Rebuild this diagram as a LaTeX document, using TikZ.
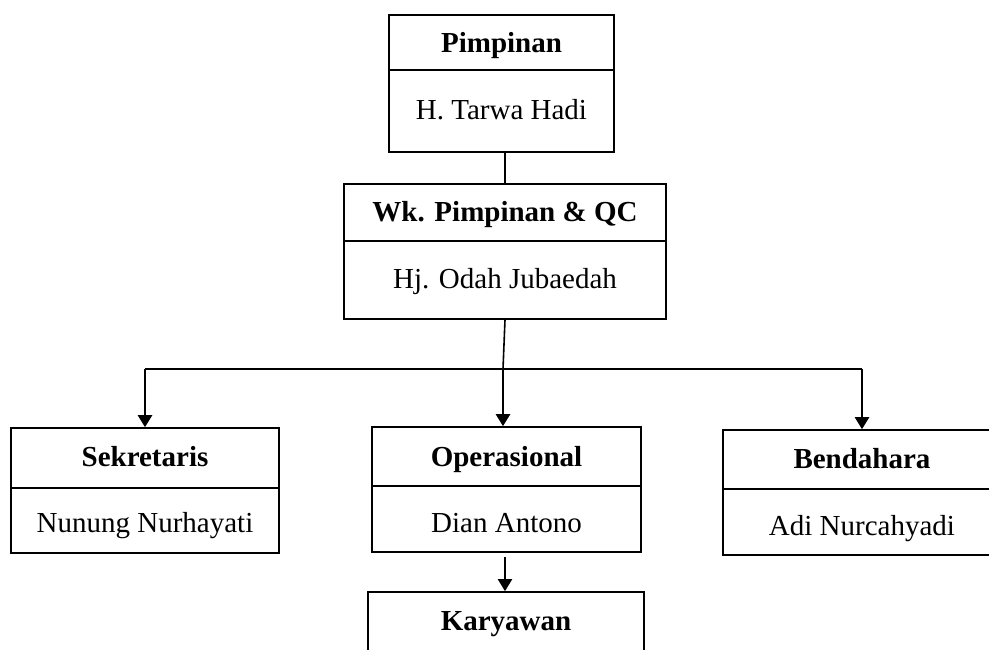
\documentclass[tikz,border=0pt]{standalone}
\usepackage{fontspec}
\setmainfont{Liberation Serif}
\usetikzlibrary{arrows.meta,calc}
\begin{document}
\begin{tikzpicture}[x=1pt,y=-1pt,
  box/.style={draw,line width=1.6pt,rectangle,inner sep=0pt},
  ttl/.style={font=\fontsize{29}{34}\selectfont\bfseries,inner sep=0pt,anchor=base},
  prs/.style={font=\fontsize{29}{34}\selectfont,inner sep=0pt,anchor=base},
  divl/.style={line width=1.6pt},
  conn/.style={line width=1.6pt},
  arr/.style={line width=2.4pt,-{Triangle[length=12pt,width=14pt]}}]
\useasboundingbox (0,0) rectangle (989,650);
% Pimpinan
\node[box,minimum width=225pt,minimum height=137pt] (p) at (501.5,83.5) {};
\draw[divl] (389,70) -- (614,70);
\node[ttl] (pt) at (501.5,53) {Pimpinan};
\node[prs] (pp) at (501.5,120) {H. Tarwa Hadi};
% Wk. Pimpinan
\node[box,minimum width=322pt,minimum height=135pt] (w) at (505,251.5) {};
\draw[divl] (344,241) -- (666,241);
\node[ttl] (wt) at (505,221.5) {Wk. Pimpinan \& QC};
\node[prs] (wp) at (505,288) {Hj. Odah Jubaedah};
% Sekretaris
\node[box,minimum width=268pt,minimum height=125pt] (s) at (145,490.5) {};
\draw[divl] (11,488) -- (279,488);
\node[ttl] (st) at (145,466.5) {Sekretaris};
\node[prs] (sp) at (145,532.5) {Nunung Nurhayati};
% Operasional
\node[box,minimum width=269pt,minimum height=125pt] (o) at (506.5,489.5) {};
\draw[divl] (372,486) -- (641,486);
\node[ttl] (ot) at (506.5,466) {Operasional};
\node[prs] (op) at (506.5,532.5) {Dian Antono};
% Bendahara
\node[box,minimum width=278pt,minimum height=125pt] (b) at (862,492.5) {};
\draw[divl] (723,489) -- (1001,489);
\node[ttl] (bt) at (862,468) {Bendahara};
\node[prs] (bp) at (862,535) {Adi Nurcahyadi};
% Karyawan
\node[box,minimum width=276pt,minimum height=128pt] (k) at (506,656) {};
\node[ttl] (kt) at (506,630) {Karyawan};
% connectors
\coordinate (j) at (503,369);
\coordinate (jl) at (145,369);
\coordinate (jr) at (862,369);
\draw[conn] (p.south -| 505,0) -- (w.north -| 505,0);
\draw[conn] (w.south -| 505,0) -- (j);
\draw[conn] (jl) -- (jr);
\draw[arr] (j) -- (o.north -| j);
\draw[arr] (jl) -- (s.north -| jl);
\draw[arr] (jr) -- (b.north -| jr);
\draw[arr,line width=2pt] ($(o.south -| 505,0)+(0,4)$) -- (k.north -| 505,0);
\end{tikzpicture}
\end{document}
